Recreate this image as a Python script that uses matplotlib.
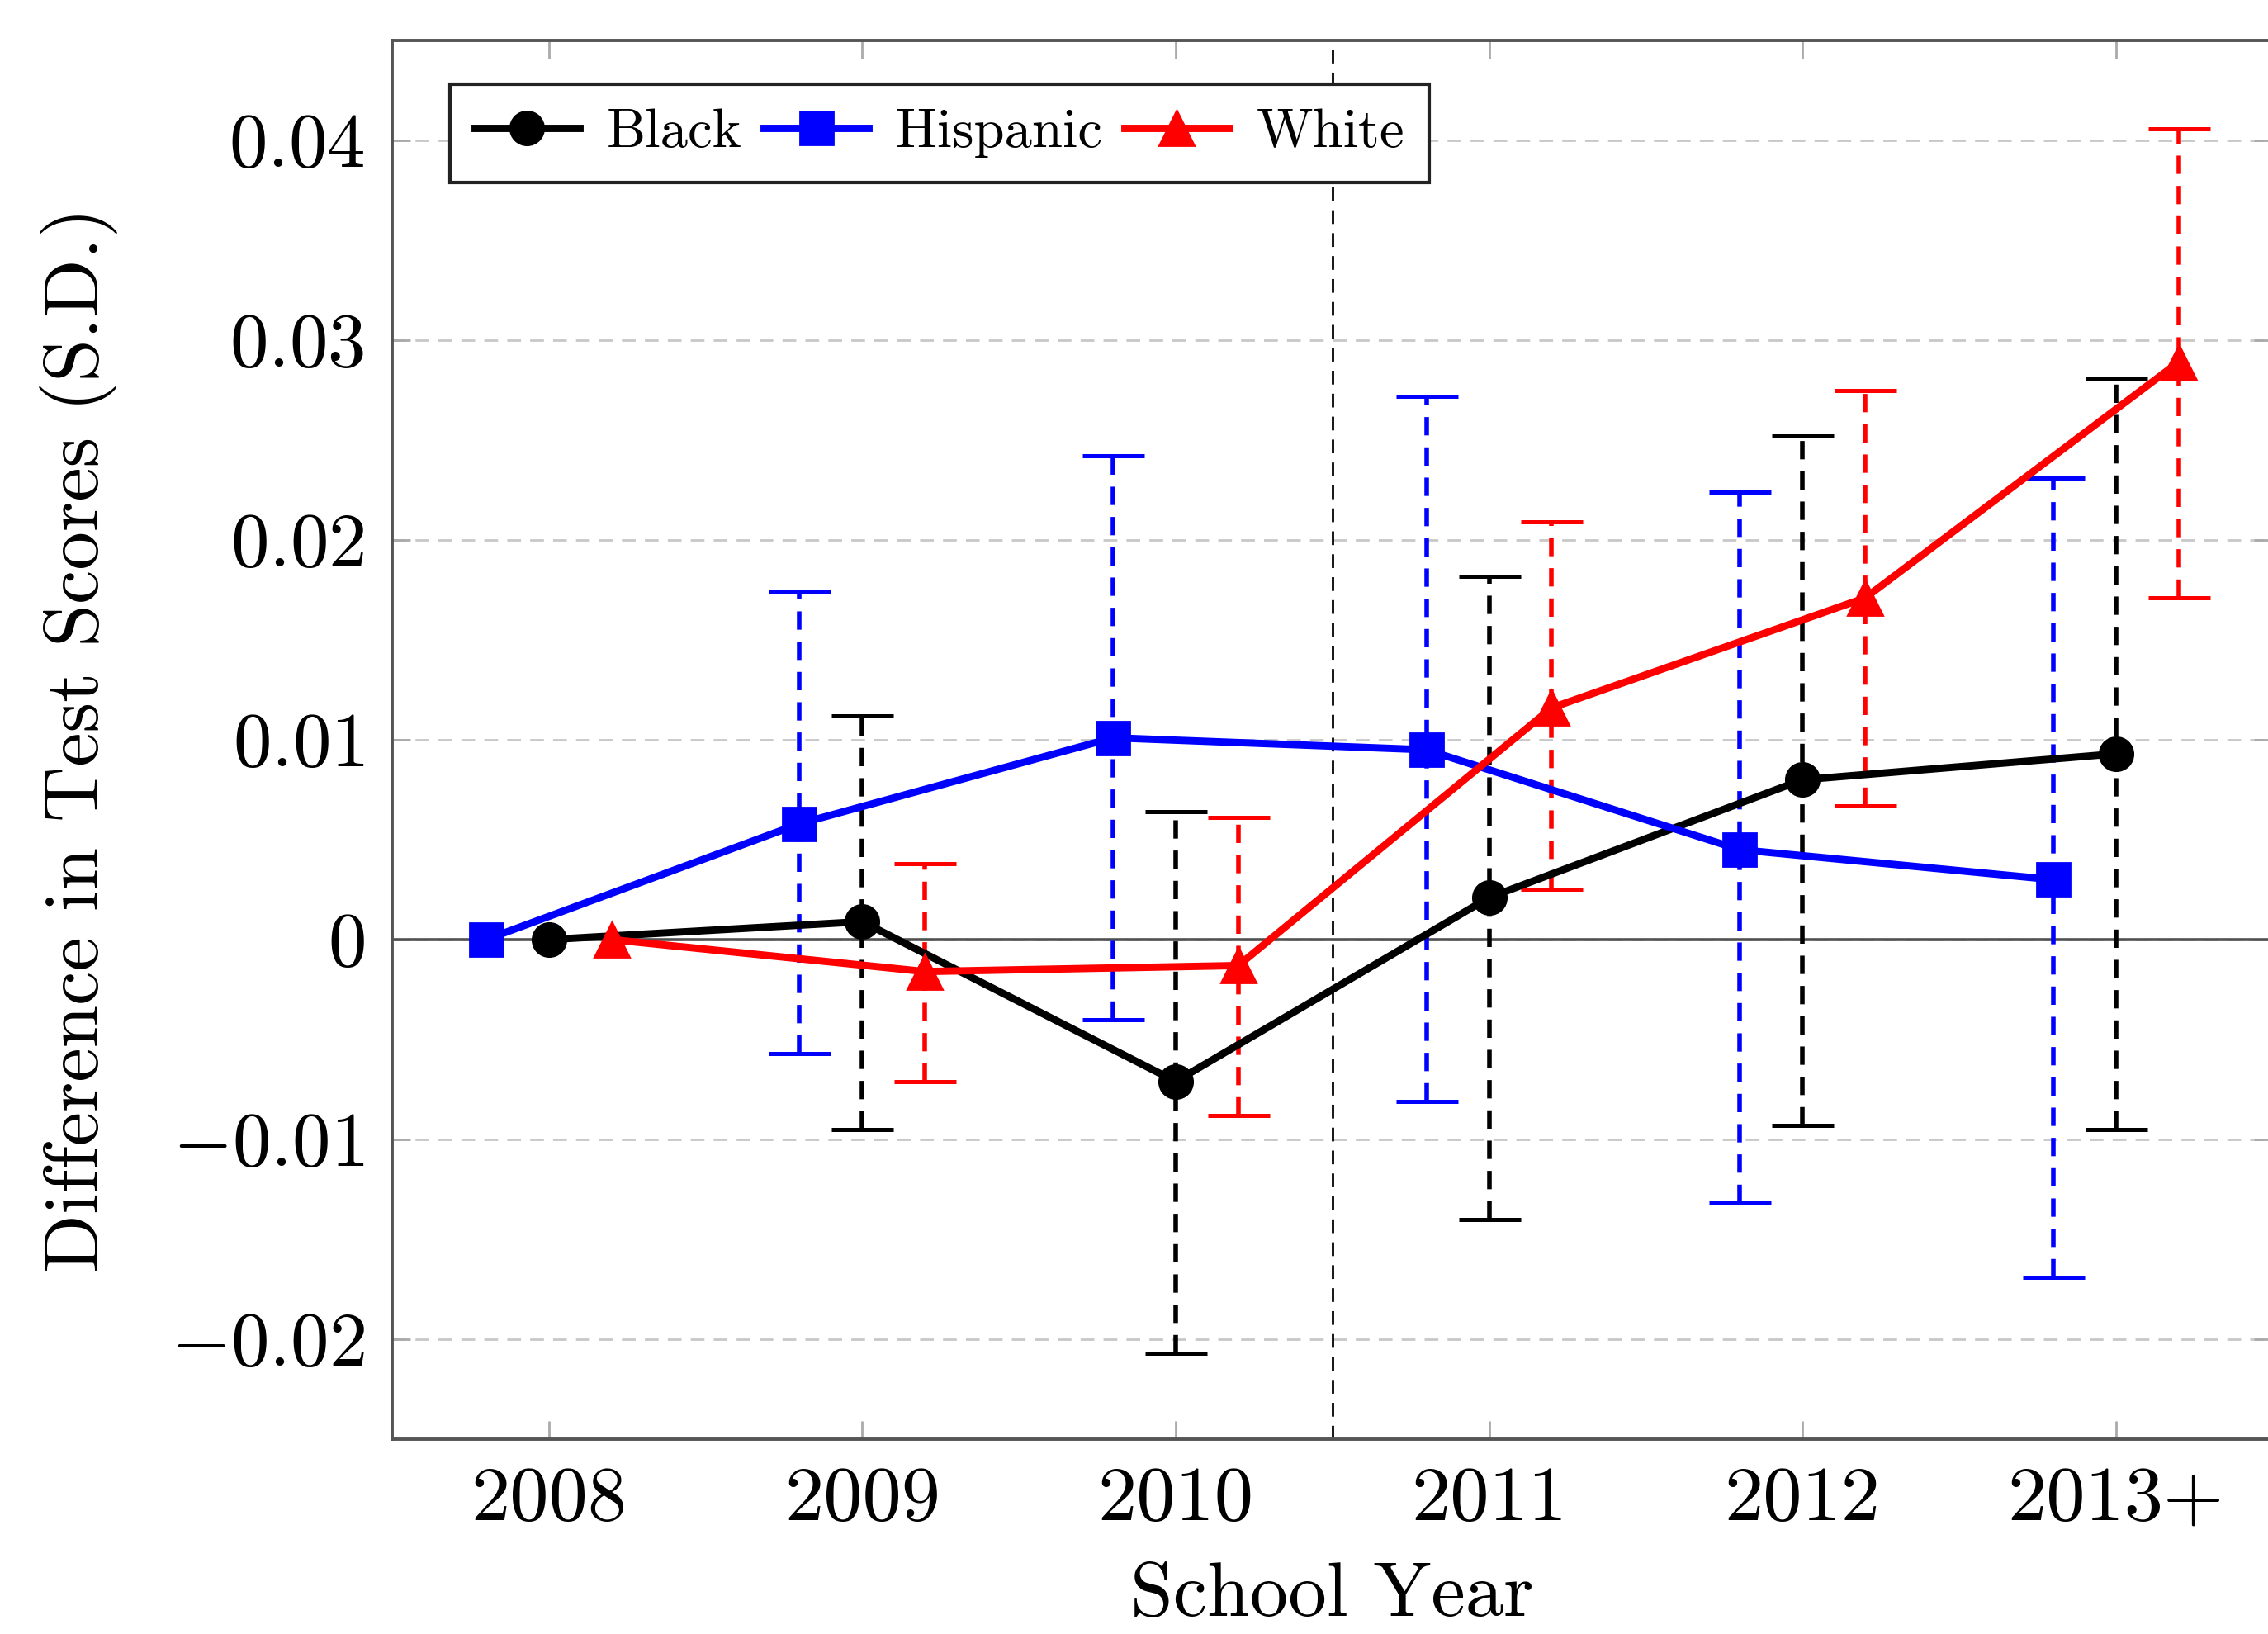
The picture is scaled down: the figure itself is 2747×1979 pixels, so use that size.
import numpy as np
import matplotlib
matplotlib.use("Agg")
import matplotlib.pyplot as plt

plt.rcParams['font.family'] = ['cmr10', 'DejaVu Serif']
plt.rcParams['mathtext.fontset'] = 'cm'
plt.rcParams['axes.formatter.use_mathtext'] = True
plt.rcParams['axes.unicode_minus'] = False

# ---- data ----
years = ['2008', '2009', '2010', '2011', '2012', '2013+']

black = [0.0, 0.0009, -0.0071, 0.0021, 0.0080, 0.0093]
black_hi = [0.0112, 0.0064, 0.0182, 0.0252, 0.0281]
black_lo = [-0.0095, -0.0207, -0.0140, -0.0093, -0.0095]

hispanic = [0.0, 0.0058, 0.0101, 0.0095, 0.0045, 0.0030]
hispanic_hi = [0.0174, 0.0242, 0.0272, 0.0224, 0.0231]
hispanic_lo = [-0.0057, -0.0040, -0.0081, -0.0132, -0.0169]

white = [0.0, -0.0016, -0.0013, 0.0116, 0.0171, 0.0289]
white_hi = [0.0038, 0.0061, 0.0209, 0.0275, 0.0406]
white_lo = [-0.0071, -0.0088, 0.0025, 0.0067, 0.0171]

yticks = [-0.02, -0.01, 0.0, 0.01, 0.02, 0.03, 0.04]
ytick_labels = [r'$-0.02$', r'$-0.01$', r'$0$', r'$0.01$', r'$0.02$', r'$0.03$', r'$0.04$']

series = [
    ('Black', black, black_hi, black_lo, 'black', 'o', 0.0, 14.5),
    ('Hispanic', hispanic, hispanic_hi, hispanic_lo, 'blue', 's', -0.2, 14.5),
    ('White', white, white_hi, white_lo, 'red', '^', 0.2, 15),
]

fig = plt.figure(figsize=(13.735, 9.895), dpi=200)
ax = fig.add_axes([0.1729, 0.1193, 0.8291, 0.8559])

x = np.arange(len(years))

ax.axhline(0, color='#505050', lw=1.3, zorder=1)
ax.axvline(2.5, color='black', lw=1.0, ls=(0, (6, 4)), zorder=1)

handles = []
for name, vals, hi, lo, col, mk, off, ms in series:
    vals = np.array(vals)
    xs = x + off
    v = vals[1:]
    yerr = np.vstack([v - np.array(lo), np.array(hi) - v])
    eb = ax.errorbar(xs[1:], v, yerr=yerr, fmt='none', ecolor=col,
                     elinewidth=2.0, capsize=13.5, capthick=1.8, zorder=2)
    for lc in eb[2]:
        lc.set_linestyle((0, (4, 2.6)))
    h, = ax.plot(xs, vals, color=col, lw=3.2, marker=mk, ms=ms,
                 markeredgecolor=col, zorder=3, label=name)
    handles.append(h)

ax.set_xlim(-0.5, 5.5)
ax.set_ylim(-0.025, 0.045)
ax.set_xticks(x)
ax.set_xticklabels(years)
ax.set_yticks(yticks)
ax.set_yticklabels(ytick_labels)

ax.yaxis.grid(True, color='#c8c8c8', ls=(0, (6, 4)), lw=1.0)
ax.set_axisbelow(True)

ax.tick_params(axis='both', which='major', direction='in', length=8,
               width=1.0, color='#aaaaaa', top=True, right=True)
ax.tick_params(axis='x', pad=12, labelsize=34)
ax.tick_params(axis='y', pad=12, labelsize=33.5)

for s in ax.spines.values():
    s.set_color('#555555')
    s.set_linewidth(1.4)

ax.set_xlabel('School Year', fontsize=33.5, labelpad=12)
ax.set_ylabel('Difference in Test Scores (S.D.)', fontsize=33.5, labelpad=23)

leg = ax.legend(handles=handles, loc='upper left', bbox_to_anchor=(0.0307, 0.969),
                ncol=3, fontsize=24, frameon=True, fancybox=False, framealpha=1,
                edgecolor='#222222', handlelength=1.9, columnspacing=0.4,
                handletextpad=0.5, borderpad=0.45, borderaxespad=0)
leg.get_frame().set_linewidth(1.5)

fig.savefig('out.png', dpi=200)
